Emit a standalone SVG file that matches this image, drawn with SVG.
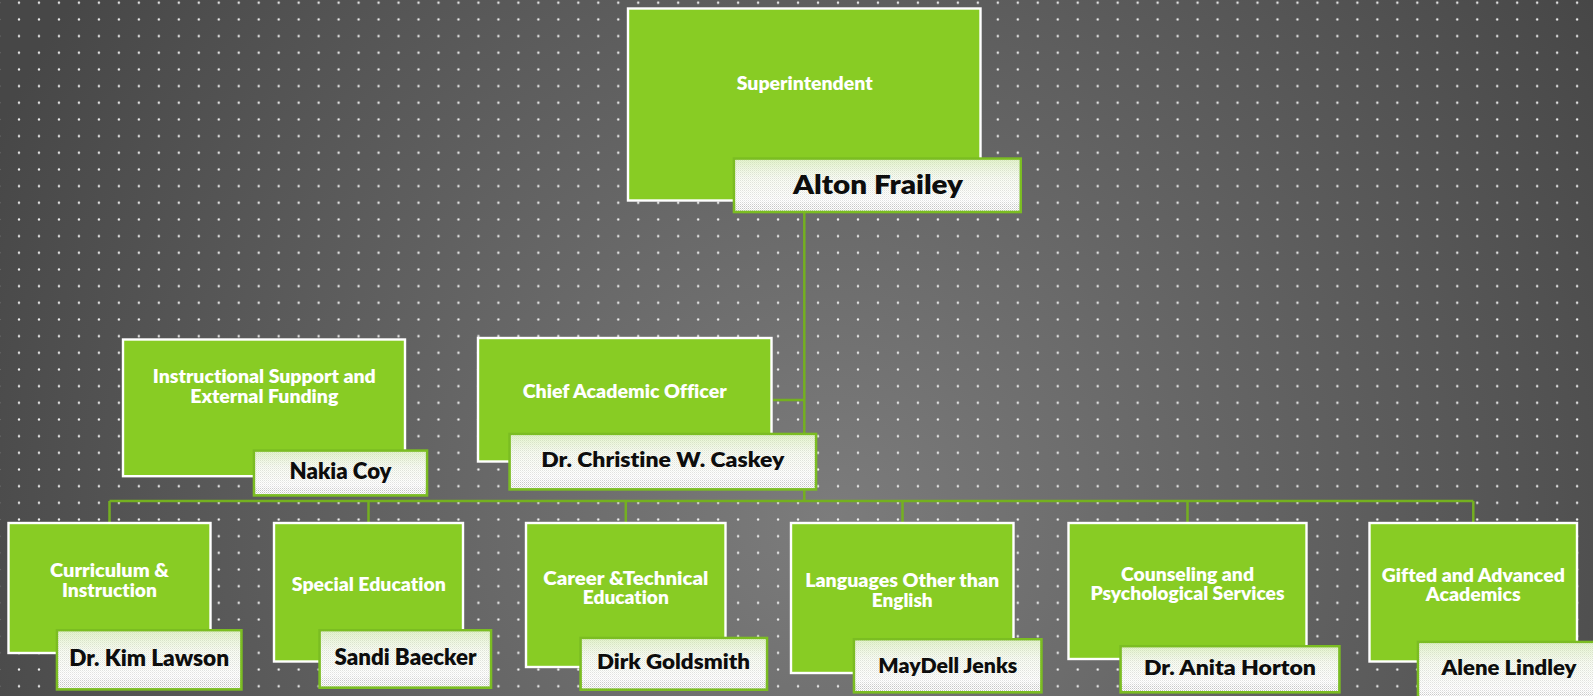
<svg xmlns="http://www.w3.org/2000/svg" width="1593" height="696" viewBox="0 0 1593 696">
<defs>
<radialGradient id="bg" gradientUnits="userSpaceOnUse" cx="830" cy="520" r="920">
<stop offset="0" stop-color="#7c7c7c"/>
<stop offset="1" stop-color="#474747"/>
</radialGradient>
<pattern id="dots" patternUnits="userSpaceOnUse" x="9" y="-5.6" width="19.976" height="16.67">
<circle cx="10" cy="8.33" r="1.15" fill="#f2f2f2"/>
</pattern>
<pattern id="mesh" patternUnits="userSpaceOnUse" width="2" height="2">
<rect width="2" height="2" fill="#ffffff"/>
<rect width="1" height="1" fill="#c6c6c6"/>
<rect x="1" y="1" width="1" height="1" fill="#e2e2e2"/>
</pattern>
<linearGradient id="tint" x1="0" y1="0" x2="0" y2="1">
<stop offset="0" stop-color="#d9f0b8" stop-opacity="0.7"/>
<stop offset="0.35" stop-color="#f4fbe9" stop-opacity="0.55"/>
<stop offset="0.8" stop-color="#ffffff" stop-opacity="0.5"/>
<stop offset="0.9" stop-color="#ffffff" stop-opacity="0"/>
</linearGradient>
</defs>
<style>
.box{fill:#88cc24;stroke:#ffffff;stroke-width:2.4}
.nb{fill:url(#mesh);stroke:#7bbd22;stroke-width:2.6}
.nt{fill:url(#tint);stroke:none}
text{font-variant-ligatures:none}
.t{font-family:Lato,"Open Sans","Liberation Sans",sans-serif;font-weight:800;font-size:18.5px;fill:#ffffff;text-anchor:middle}
.n{font-family:Lato,"Open Sans","Liberation Sans",sans-serif;font-weight:800;fill:#0d0d0d;text-anchor:middle}
.c{fill:none;stroke:#74b020;stroke-width:2.5}
</style>
<rect width="1593" height="696" fill="url(#bg)"/>
<rect width="1593" height="696" fill="url(#dots)"/>

<g id="connectors" class="c">
<path d="M804.3 205 V501"/>
<path d="M772.7 400 H804.3"/>
<path d="M109.5 501 H1473.3"/>
<path d="M109.5 501 V522"/>
<path d="M368.5 501 V522"/>
<path d="M625.8 501 V522"/>
<path d="M902.5 501 V522"/>
<path d="M1187.5 501 V522"/>
<path d="M1473.3 501 V522"/>
</g>

<g id="superintendent">
<rect class="box" x="628" y="8.5" width="352.5" height="192"/>
<text class="t" x="804.7" y="90" textLength="136" lengthAdjust="spacingAndGlyphs">Superintendent</text>
<rect class="nb" x="734" y="158.6" width="286.7" height="53.4"/>
<rect class="nt" x="735.3" y="159.9" width="284.1" height="50.8"/>
<text class="n" x="878" y="194" font-size="27" textLength="170" lengthAdjust="spacingAndGlyphs">Alton Frailey</text>
</g>

<g id="isef">
<rect class="box" x="123" y="339.5" width="282" height="136.7"/>
<text class="t" x="264.3" y="382.7" textLength="223" lengthAdjust="spacingAndGlyphs">Instructional Support and</text>
<text class="t" x="264.3" y="402.7" textLength="148" lengthAdjust="spacingAndGlyphs">External Funding</text>
<rect class="nb" x="254" y="450.6" width="173" height="44.8"/>
<rect class="nt" x="255.3" y="451.9" width="170.4" height="42.2"/>
<text class="n" x="340.5" y="479.3" font-size="22" textLength="102" lengthAdjust="spacingAndGlyphs">Nakia Coy</text>
</g>

<g id="cao">
<rect class="box" x="478" y="338" width="293.5" height="123.5"/>
<text class="t" x="624.7" y="398.3" textLength="204" lengthAdjust="spacingAndGlyphs">Chief Academic Officer</text>
<rect class="nb" x="509.6" y="434" width="306.4" height="55.4"/>
<rect class="nt" x="510.9" y="435.3" width="303.8" height="52.8"/>
<text class="n" x="662.8" y="466.7" font-size="21" textLength="243" lengthAdjust="spacingAndGlyphs">Dr. Christine W. Caskey</text>
</g>

<g id="curriculum">
<rect class="box" x="8.5" y="523" width="202" height="130"/>
<text class="t" x="109.5" y="576.7" textLength="119" lengthAdjust="spacingAndGlyphs">Curriculum &amp;</text>
<text class="t" x="109.5" y="596.7" textLength="95" lengthAdjust="spacingAndGlyphs">Instruction</text>
<rect class="nb" x="57" y="630.3" width="184.4" height="59.1"/>
<rect class="nt" x="58.3" y="631.6" width="181.8" height="56.5"/>
<text class="n" x="149.2" y="665.7" font-size="22" textLength="160" lengthAdjust="spacingAndGlyphs">Dr. Kim Lawson</text>
</g>

<g id="special-education">
<rect class="box" x="274" y="523" width="189" height="138.5"/>
<text class="t" x="368.8" y="590.7" textLength="154" lengthAdjust="spacingAndGlyphs">Special Education</text>
<rect class="nb" x="319.6" y="630.3" width="171.4" height="57.4"/>
<rect class="nt" x="320.9" y="631.6" width="168.8" height="54.8"/>
<text class="n" x="405.5" y="665" font-size="22" textLength="142" lengthAdjust="spacingAndGlyphs">Sandi Baecker</text>
</g>

<g id="cte">
<rect class="box" x="526" y="523" width="199.5" height="144"/>
<text class="t" x="625.8" y="585" textLength="165" lengthAdjust="spacingAndGlyphs">Career &amp;Technical</text>
<text class="t" x="625.8" y="604" textLength="86" lengthAdjust="spacingAndGlyphs">Education</text>
<rect class="nb" x="580.6" y="638" width="186.4" height="51.7"/>
<rect class="nt" x="581.9" y="639.3" width="183.8" height="49.1"/>
<text class="n" x="673.5" y="669.3" font-size="21" textLength="153" lengthAdjust="spacingAndGlyphs">Dirk Goldsmith</text>
</g>

<g id="lote">
<rect class="box" x="791" y="523" width="222.5" height="150"/>
<text class="t" x="902.2" y="586.7" textLength="194" lengthAdjust="spacingAndGlyphs">Languages Other than</text>
<text class="t" x="902.2" y="606.7" textLength="61" lengthAdjust="spacingAndGlyphs">English</text>
<rect class="nb" x="854" y="639.3" width="187.4" height="53"/>
<rect class="nt" x="855.3" y="640.6" width="184.8" height="50.4"/>
<text class="n" x="947.8" y="672.7" font-size="21" textLength="139" lengthAdjust="spacingAndGlyphs">MayDell Jenks</text>
</g>

<g id="counseling">
<rect class="box" x="1068.5" y="523" width="238" height="136"/>
<text class="t" x="1187.5" y="580.7" textLength="133" lengthAdjust="spacingAndGlyphs">Counseling and</text>
<text class="t" x="1187.5" y="600" textLength="194" lengthAdjust="spacingAndGlyphs">Psychological Services</text>
<rect class="nb" x="1120.6" y="646.3" width="218.8" height="46"/>
<rect class="nt" x="1121.9" y="647.6" width="216.2" height="43.4"/>
<text class="n" x="1230" y="675" font-size="20" textLength="172" lengthAdjust="spacingAndGlyphs">Dr. Anita Horton</text>
</g>

<g id="gifted">
<rect class="box" x="1369.5" y="523" width="207.5" height="138.5"/>
<text class="t" x="1473.3" y="581.7" textLength="183" lengthAdjust="spacingAndGlyphs">Gifted and Advanced</text>
<text class="t" x="1473.3" y="600.7" textLength="95" lengthAdjust="spacingAndGlyphs">Academics</text>
<rect class="nb" x="1418" y="642" width="190" height="60"/>
<rect class="nt" x="1419.3" y="643.3" width="187.4" height="57.4"/>
<text class="n" x="1509" y="675" font-size="20" textLength="135" lengthAdjust="spacingAndGlyphs">Alene Lindley</text>
</g>
</svg>
